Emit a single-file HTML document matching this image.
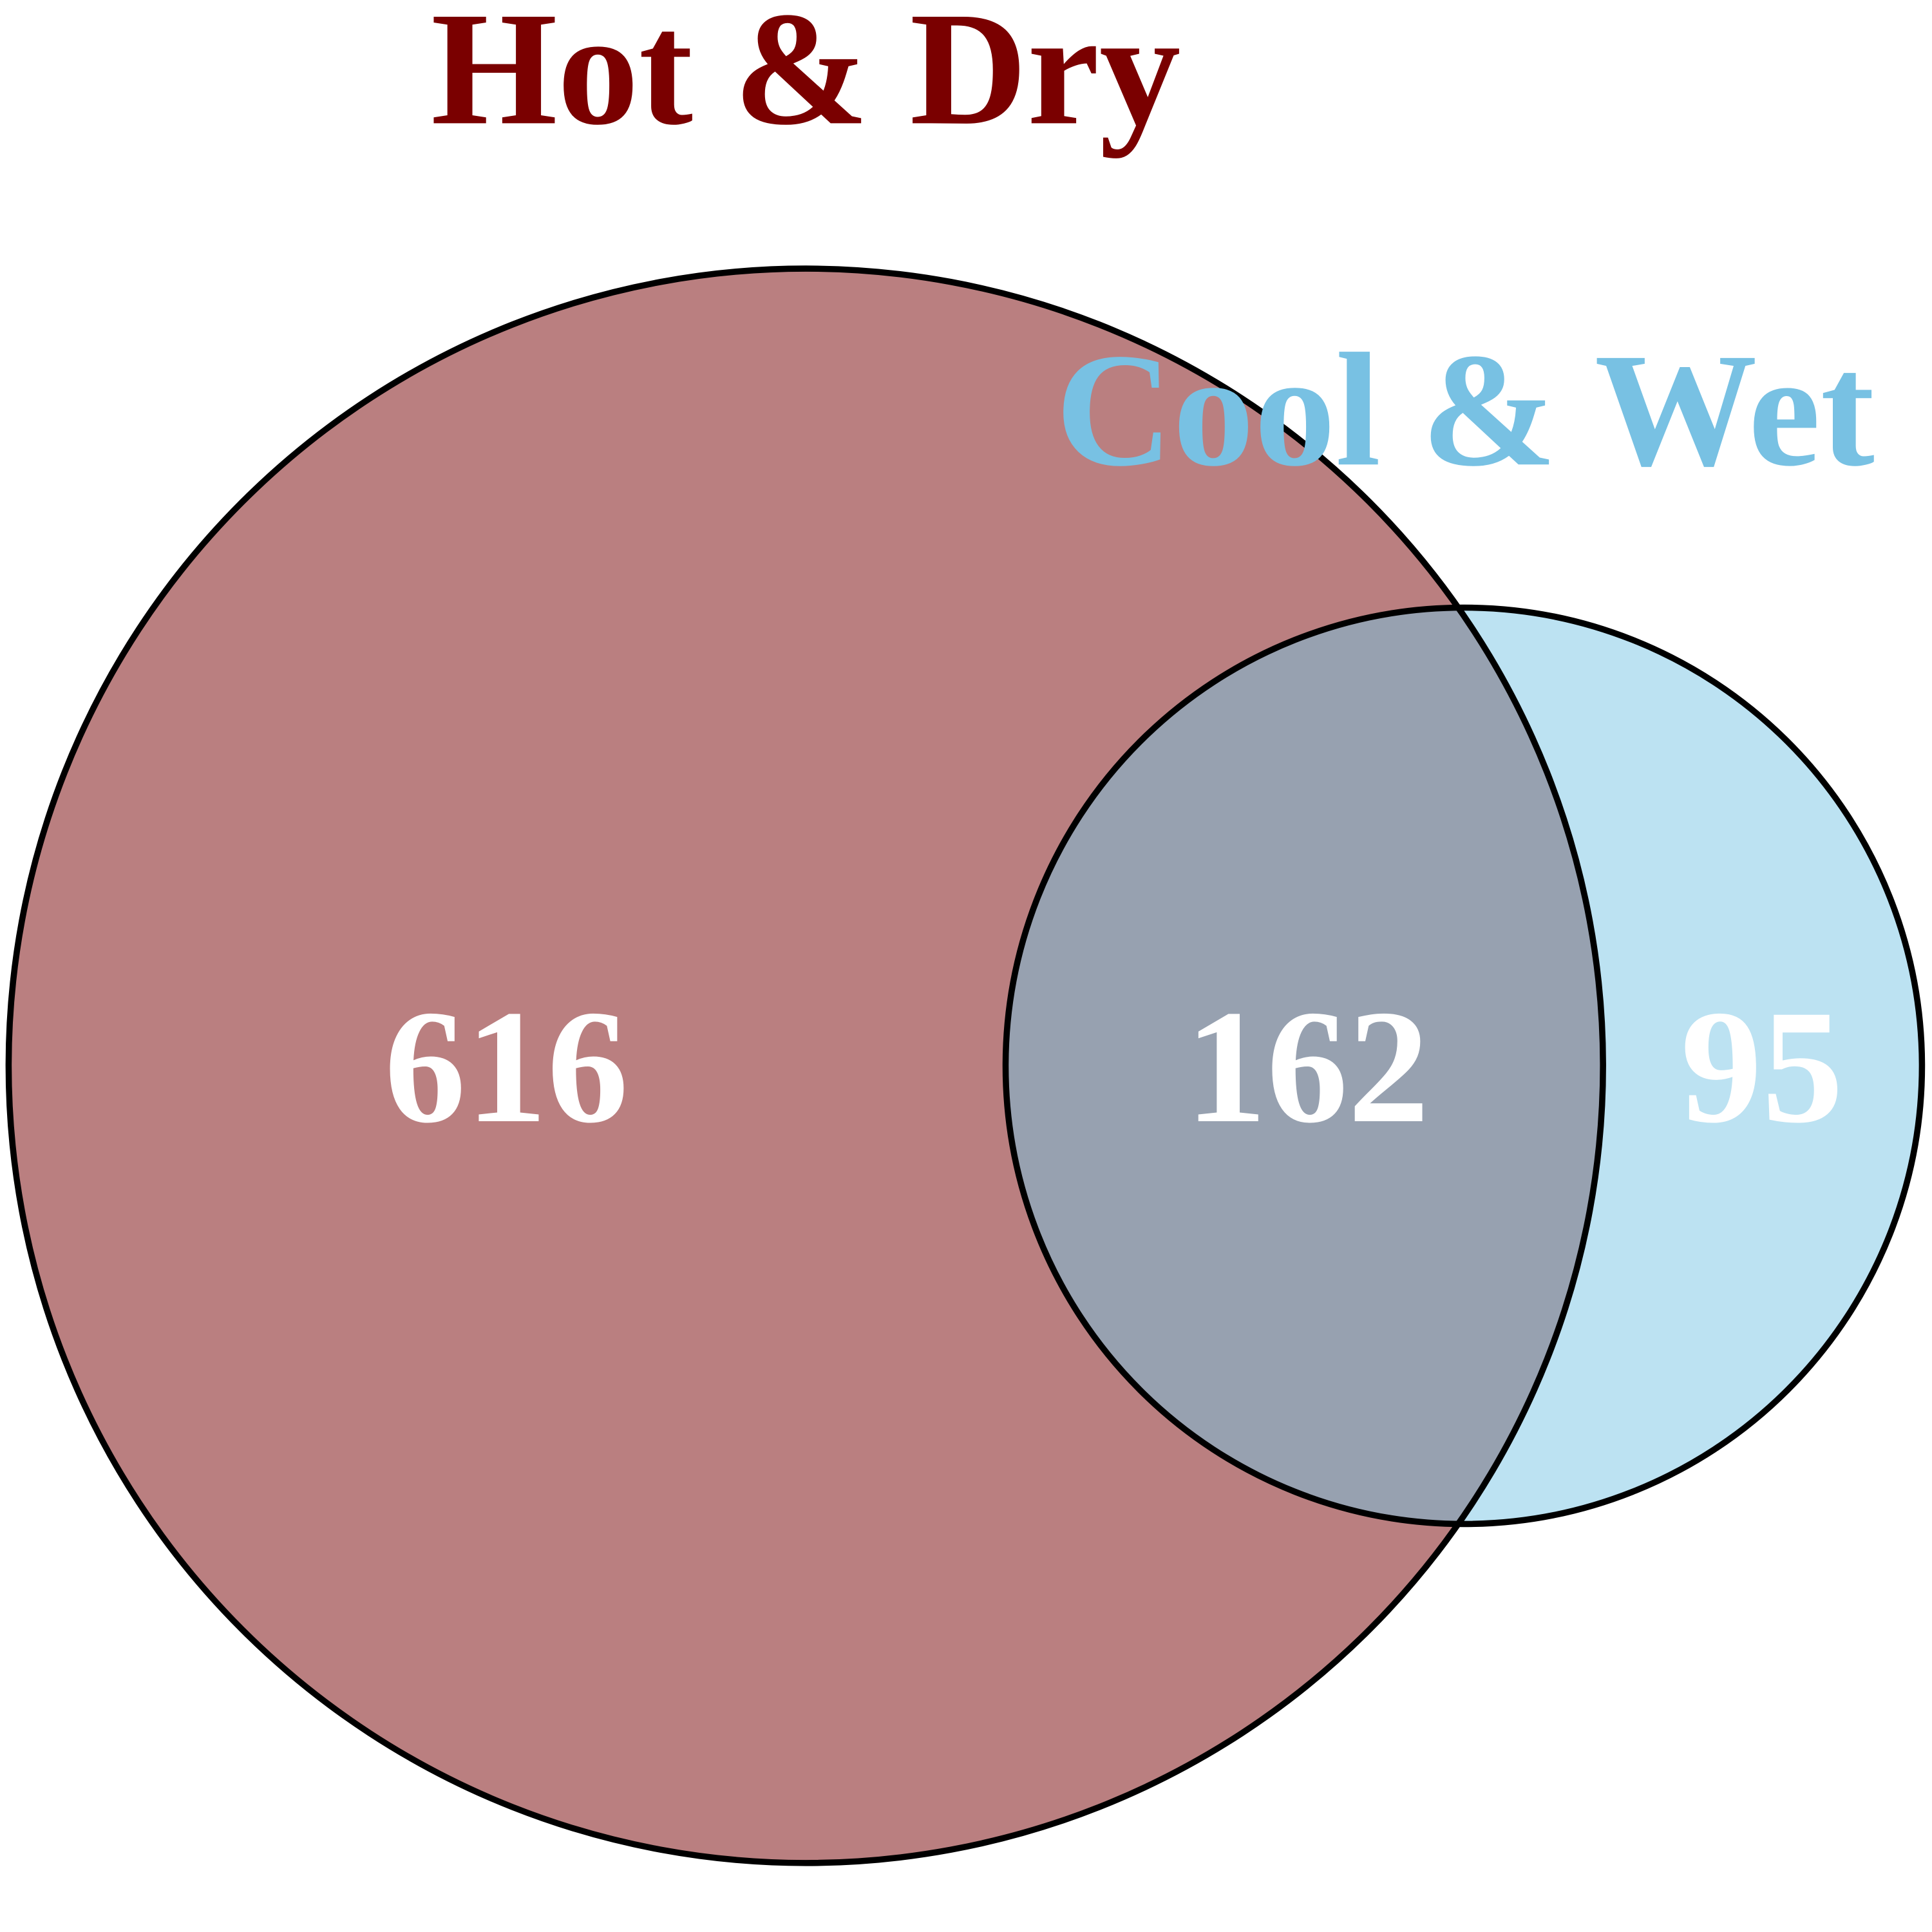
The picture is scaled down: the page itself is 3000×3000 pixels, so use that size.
<!DOCTYPE html>
<html><head><meta charset="utf-8">
<style>
html,body{margin:0;padding:0;background:#fff;width:3000px;height:3000px;overflow:hidden}
svg text{font-family:"Liberation Serif","Times New Roman",Times,serif;font-weight:bold}
</style>
</head><body>
<svg id="venn" width="3000" height="3000" viewBox="0 0 1568 1568" xmlns="http://www.w3.org/2000/svg"></svg>
<script>
const setNames = ["Hot & Dry", "Cool & Wet"];
const setColors = ["#7a0000", "#78c1e3"];
const regionLabels = ["616", "162", "95"];
const regionCounts = [616, 162, 95];

const NS = "http://www.w3.org/2000/svg";
const svg = document.getElementById("venn");
function mk(tag, attrs, parent) {
  const e = document.createElementNS(NS, tag);
  for (const k in attrs) e.setAttribute(k, attrs[k]);
  (parent || svg).appendChild(e);
  return e;
}
const totalA = regionCounts[0] + regionCounts[1];
const totalB = regionCounts[1] + regionCounts[2];
const rA = 647;
const rB = rA * Math.sqrt(totalB / totalA);
const cy = 865;
const cxA = 654;
const cxB = 1188;

const defs = mk("defs", {});
const clip = mk("clipPath", {id: "clipA"}, defs);
mk("circle", {cx: cxA, cy: cy, r: rA}, clip);

const cA = mk("circle", {cx: cxA, cy: cy, r: rA, fill: "#ba7f80"});


const cB = mk("circle", {cx: cxB, cy: cy, r: rB, fill: "#bce2f2"});


const inter = mk("circle", {cx: cxB, cy: cy, r: rB, fill: "#97a1b0", "clip-path": "url(#clipA)"});



const oA = mk("circle", {cx: cxA, cy: cy, r: rA, fill: "none", stroke: "#000", "stroke-width": 5});


const oB = mk("circle", {cx: cxB, cy: cy, r: rB, fill: "none", stroke: "#000", "stroke-width": 5});



const titlePos = [[654, 100], [1189, 377]];
setNames.forEach((n, i) => {
  const t = mk("text", {x: titlePos[i][0], y: titlePos[i][1], "text-anchor": "middle",
    "font-size": 132, fill: setColors[i]});
  t.textContent = n;
  
  
});

const labelX = [411, 1061, 1430];
regionLabels.forEach((l, i) => {
  const t = mk("text", {x: labelX[i], y: 910, "text-anchor": "middle",
    "font-size": 132, fill: "#fff"});
  t.textContent = l;
  
  
});
</script>
</body></html>
